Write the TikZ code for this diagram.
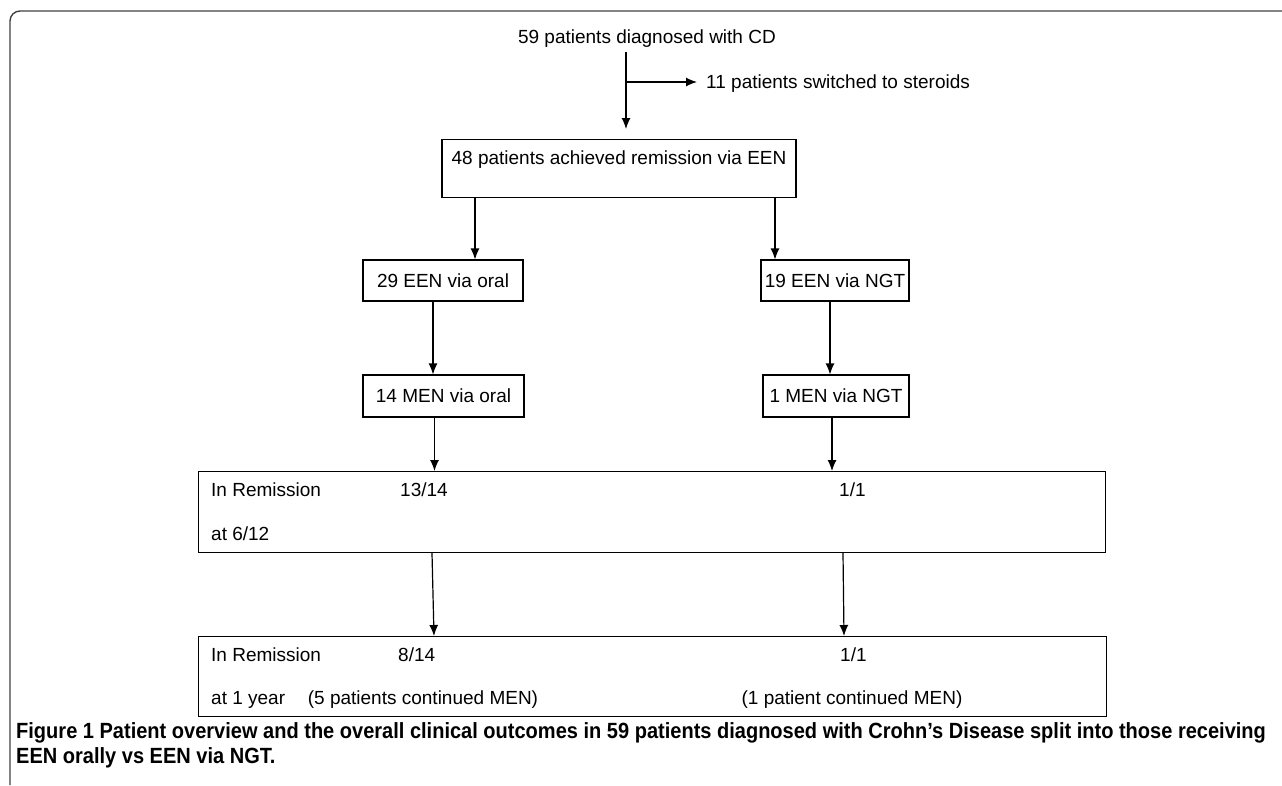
\documentclass[tikz,border=0pt]{standalone}
\usepackage{fontspec}
\setmainfont{Liberation Sans}
\newfontfamily\capfont[FakeStretch=0.91]{Liberation Sans}
\usetikzlibrary{arrows.meta}

\begin{document}
\begin{tikzpicture}[x=1pt,y=-1pt,
    box/.style={draw, line width=1.1pt, inner sep=0pt},
    arr/.style={line width=1.2pt, -{Latex[length=11pt,width=9pt]}},
    txt/.style={font=\fontsize{19}{22}\selectfont, inner sep=0pt},
    small/.style={font=\fontsize{19}{22}\selectfont, inner sep=0pt, anchor=base west}]
\useasboundingbox (0,0) rectangle (1282,785);
% frame
\draw[line width=1.4pt, black!75, rounded corners=10pt] (10,785) -- (10,11) -- (1282,11);

% top
\node[txt, anchor=base east] (diag) at (776,43) {59 patients diagnosed with CD};
\node[txt, anchor=base west] (steroids) at (706,88) {11 patients switched to steroids};
\coordinate (trunk) at (626,52);
\coordinate (split) at (626,82);
\coordinate (trunkend) at (626,129);
\draw[line width=1.2pt] (trunk) -- (split);
\draw[arr] (split) -- (trunkend);
\draw[arr, shorten >=9pt] (split) -- (split -| steroids.west);

% boxes
\node[box, txt, minimum width=354pt, text height=25pt, text depth=33pt, anchor=north] (een) at (619,139) {48 patients achieved remission via EEN};
\node[box, txt, minimum width=160pt, minimum height=41pt] (oral) at (443,280.5) {29 EEN via oral};
\node[box, txt, minimum width=148pt, minimum height=41pt] (ngt) at (835,280.5) {19 EEN via NGT};
\node[box, txt, minimum width=161pt, minimum height=42pt] (menoral) at (443.5,396) {14 MEN via oral};
\node[box, txt, minimum width=146pt, minimum height=42pt] (menngt) at (836,396) {1 MEN via NGT};

\node[box, minimum width=907pt, minimum height=81pt, anchor=north west] (remsix) at (198,471) {};
\node[small] (sixa) at (211,496) {In Remission};
\node[small] (sixb) at (400,496) {13/14};
\node[small] (sixc) at (839,496) {1/1};
\node[small] (sixd) at (211,540) {at 6/12};

\node[box, minimum width=908pt, minimum height=80pt, anchor=north west] (remyear) at (198,636) {};
\node[small] (yeara) at (211,661) {In Remission};
\node[small] (yearb) at (398,661) {8/14};
\node[small] (yearc) at (840,661) {1/1};
\node[small] (yeard) at (211,704) {at 1 year};
\node[small, anchor=base] (yeare) at (423,704) {(5 patients continued MEN)};
\node[small, anchor=base] (yearf) at (852,704) {(1 patient continued MEN)};

% arrows
\draw[arr] ([xshift=-144pt]een.south) -- ([xshift=-144pt]een.south |- oral.north);
\draw[arr] ([xshift=156pt]een.south) -- ([xshift=156pt]een.south |- ngt.north);
\draw[arr] ([xshift=-10pt]oral.south) -- ([xshift=-10pt]oral.south |- menoral.north);
\draw[arr] ([xshift=-5pt]ngt.south) -- ([xshift=-5pt]ngt.south |- menngt.north);
\draw[arr] ([xshift=-9pt]menoral.south) -- ([xshift=-9pt]menoral.south |- remsix.north);
\draw[arr] ([xshift=-4pt]menngt.south) -- ([xshift=-4pt]menngt.south |- remsix.north);
\draw[arr] ([xshift=234pt]remsix.south west) -- ([xshift=236pt]remyear.north west);
\draw[arr] ([xshift=645pt]remsix.south west) -- ([xshift=646pt]remyear.north west);

% caption
\node[anchor=north west, inner sep=0pt, align=left, font=\capfont\bfseries\fontsize{22}{25}\selectfont] (caption) at (16,722)
  {Figure 1 Patient overview and the overall clinical outcomes in 59 patients diagnosed with Crohn’s Disease split into those receiving\\EEN orally vs EEN via NGT.};
\end{tikzpicture}
\end{document}
